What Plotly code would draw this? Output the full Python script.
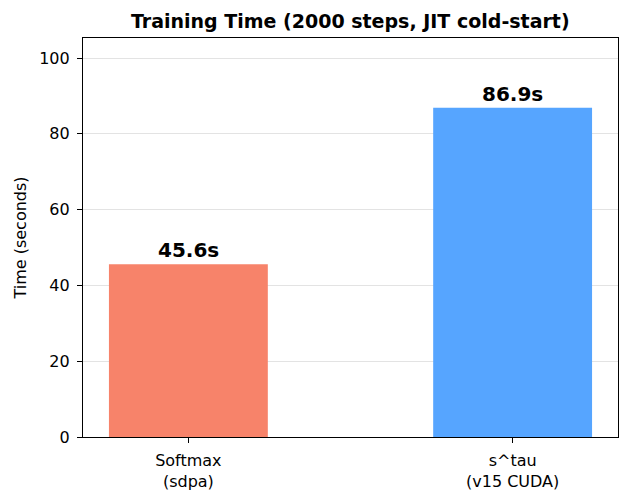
import plotly.graph_objects as go

categories = ["Softmax<br>(sdpa)", "s^tau<br>(v15 CUDA)"]
times = [45.6, 86.9]
labels = ["45.6s", "86.9s"]
colors = ["#F7836A", "#56A5FF"]
x_pos = [0, 1]

font_family = "DejaVu Sans"

fig = go.Figure()
fig.add_trace(go.Bar(
    x=x_pos, y=times, width=0.49,
    marker=dict(color=colors, line=dict(width=0)),
    hoverinfo="skip",
))

for xv, yv, lab in zip(x_pos, times, labels):
    fig.add_annotation(
        x=xv, y=yv, text="<b>" + lab + "</b>", showarrow=False,
        yanchor="bottom", yshift=0,
        font=dict(family=font_family, size=20, color="black"),
    )

fig.update_layout(
    width=630, height=499,
    margin=dict(l=83, r=12, t=38, b=62),
    paper_bgcolor="white", plot_bgcolor="white",
    showlegend=False,
    font=dict(family=font_family, size=16, color="black"),
    title=dict(
        text="<b>Training Time (2000 steps, JIT cold-start)</b>",
        x=0.556, xanchor="center", y=0.958, yanchor="middle",
        font=dict(family=font_family, size=19, color="black"),
    ),
)

fig.update_xaxes(
    range=[-0.325, 1.325], automargin=False,
    tickmode="array", tickvals=x_pos, ticktext=categories,
    ticks="outside", ticklen=5, tickcolor="black",
    showline=True, linecolor="black", linewidth=1.2, mirror=True,
    showgrid=False, zeroline=False, ticklabelstandoff=4,
    tickfont=dict(family=font_family, size=16, color="black"),
)
fig.update_yaxes(
    range=[0, 105.3], automargin=False,
    tickmode="array", tickvals=[0, 20, 40, 60, 80, 100],
    ticks="outside", ticklen=5, tickcolor="black",
    showline=True, linecolor="black", linewidth=1.2, mirror=True,
    showgrid=True, gridcolor="rgba(0,0,0,0.11)", gridwidth=1,
    zeroline=False, ticklabelstandoff=4,
    title=dict(text="Time (seconds)", standoff=8,
               font=dict(family=font_family, size=16, color="black")),
    tickfont=dict(family=font_family, size=16, color="black"),
)

fig.write_html("out.html")
